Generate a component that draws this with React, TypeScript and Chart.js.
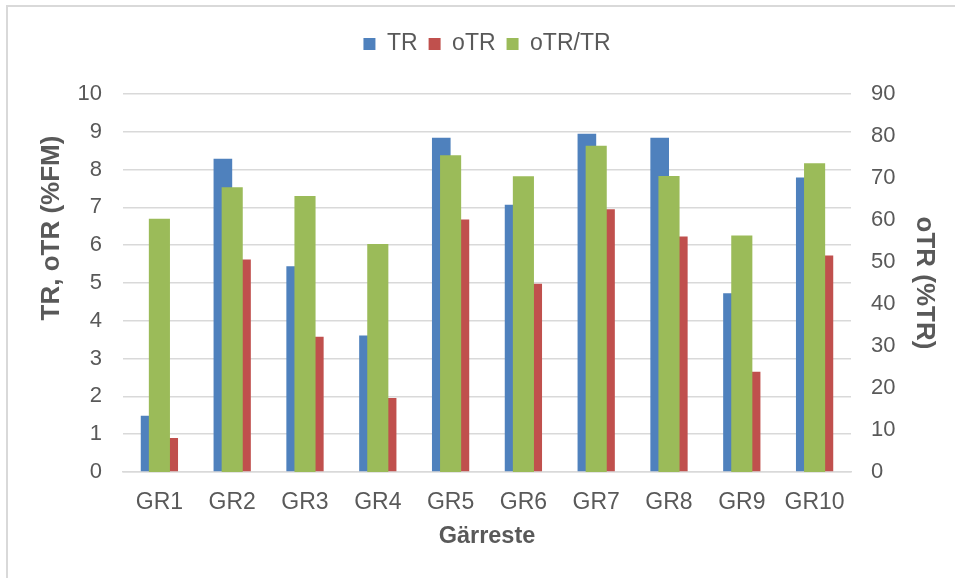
import React, { useEffect, useRef } from "react";
import { Chart, registerables } from "chart.js";

Chart.register(...registerables);

const categories = ["GR1", "GR2", "GR3", "GR4", "GR5", "GR6", "GR7", "GR8", "GR9", "GR10"];
const trValues = [1.49, 8.29, 5.44, 3.61, 8.84, 7.07, 8.95, 8.84, 4.73, 7.79];
const otrValues = [0.9, 5.62, 3.58, 1.96, 6.68, 4.98, 6.95, 6.23, 2.65, 5.73];
const ratioValues = [60.3, 67.8, 65.7, 54.3, 75.4, 70.4, 77.7, 70.5, 56.3, 73.5];

const leftTitle = "TR, oTR (%FM)";
const rightTitle = "oTR (%TR)";
const xTitle = "Gärreste";

const TEXT = "#595959";
const GRID = "#D9D9D9";
const FONT = "'Liberation Sans', Arial, sans-serif";

const framePlugin = {
  id: "frame",
  beforeDraw(chart: any) {
    const { ctx, width, height } = chart;
    ctx.save();
    ctx.fillStyle = "#ffffff";
    ctx.fillRect(0, 0, width, height);
    ctx.fillStyle = "#D9D9D9";
    ctx.fillRect(6, 5, width - 6, 2);
    ctx.fillRect(6, 5, 2, height - 5);
    ctx.restore();
  },
};

// left axis title, placed like the reference (moved up, closer to ticks)
const leftTitlePlugin = {
  id: "leftTitle",
  afterDraw(chart: any) {
    const { ctx, chartArea } = chart;
    ctx.save();
    ctx.translate(52, chartArea.top + 134);
    ctx.rotate(-Math.PI / 2);
    ctx.fillStyle = TEXT;
    ctx.font = `bold 26px ${FONT}`;
    ctx.textAlign = "center";
    ctx.textBaseline = "middle";
    ctx.fillText(leftTitle, 0, 0);
    ctx.restore();
  },
};

export default function App() {
  const ref = useRef<HTMLCanvasElement | null>(null);

  useEffect(() => {
    if (!ref.current) return;
    Chart.defaults.font.family = FONT;
    const chart = new Chart(ref.current, {
      type: "bar",
      data: {
        labels: categories,
        datasets: [
          {
            label: "TR",
            data: trValues,
            backgroundColor: "#4F81BD",
            yAxisID: "y",
            order: 1,
            categoryPercentage: 0.512,
            barPercentage: 1,
          },
          {
            label: "oTR",
            data: otrValues,
            backgroundColor: "#C0504D",
            yAxisID: "y",
            order: 1,
            categoryPercentage: 0.512,
            barPercentage: 1,
          },
          {
            label: "oTR/TR",
            data: ratioValues,
            backgroundColor: "#9BBB59",
            yAxisID: "y1",
            order: 0,
            grouped: false,
            categoryPercentage: 1,
            barPercentage: 0.29,
          } as any,
        ],
      },
      options: {
        responsive: false,
        animation: false,
        layout: { padding: { top: 21.5, left: 0, right: 0, bottom: 0 } },
        plugins: {
          tooltip: { enabled: false },
          legend: {
            display: true,
            position: "top",
            fullSize: false,
            labels: {
              boxWidth: 12,
              boxHeight: 12,
              padding: 11,
              color: TEXT,
              font: { size: 23, family: FONT },
              sort: (a: any, b: any) => a.datasetIndex - b.datasetIndex,
            },
          },
          title: {
            display: true,
            text: "",
            weight: 500,
            font: { size: 1, lineHeight: 1 },
            padding: { top: 0, bottom: 27.5 },
          } as any,
        },
        scales: {
          x: {
            type: "category",
            grid: { display: false },
            border: { display: true, color: GRID, width: 1.5 },
            ticks: { color: TEXT, font: { size: 23, family: FONT }, padding: 9, maxRotation: 0, autoSkip: false },
            title: {
              display: true,
              text: xTitle,
              color: TEXT,
              font: { size: 23.5, weight: "bold", family: FONT },
              padding: { top: 0, bottom: 27 },
            },
            afterFit: (s: any) => {
              s.height = 106;
            },
          },
          y: {
            position: "left",
            min: 0,
            max: 10,
            ticks: { stepSize: 1, color: TEXT, font: { size: 22, family: FONT }, padding: 21 },
            grid: { color: GRID, lineWidth: 1.5, drawTicks: false },
            border: { display: false },
            title: { display: false, text: leftTitle },
            afterFit: (s: any) => {
              s.width = 123;
            },
          },
          y1: {
            position: "right",
            min: 0,
            max: 90,
            ticks: { stepSize: 10, color: TEXT, font: { size: 22, family: FONT }, padding: 20 },
            grid: { display: false, drawTicks: false },
            border: { display: false },
            title: {
              display: true,
              text: rightTitle,
              color: TEXT,
              font: { size: 26, weight: "bold", family: FONT },
              padding: { top: 15.4, bottom: 0 },
            },
            afterFit: (s: any) => {
              s.width = 104;
            },
          },
        },
      },
      plugins: [framePlugin, leftTitlePlugin],
    });
    return () => chart.destroy();
  }, []);

  return (
    <div style={{ position: "fixed", left: 0, top: 0, width: 955, height: 578 }}>
      <canvas ref={ref} width={955} height={578} style={{ width: 955, height: 578, display: "block" }} />
    </div>
  );
}
